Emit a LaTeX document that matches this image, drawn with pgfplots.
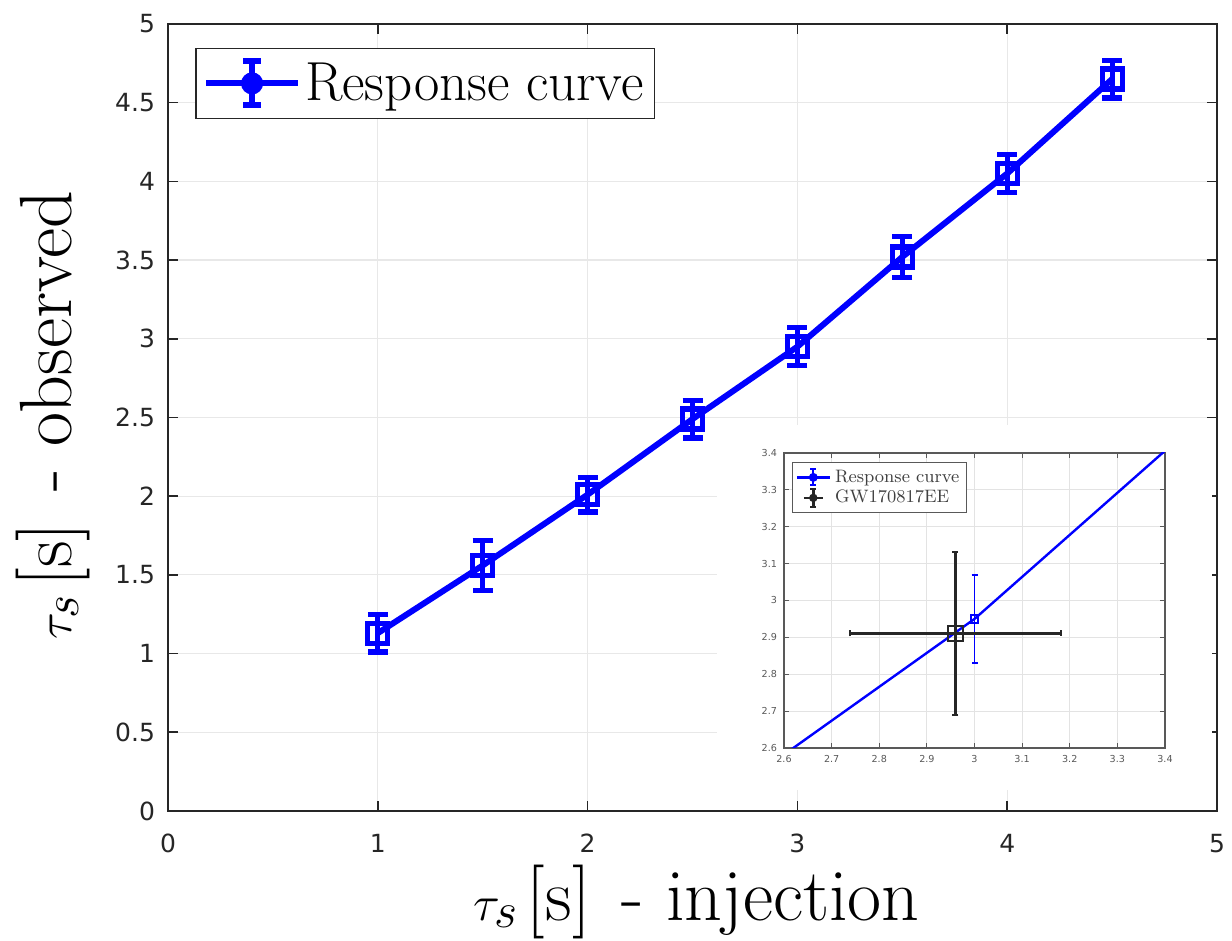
\documentclass[border=0pt]{standalone}
\usepackage{fontspec}
\usepackage{pgfplots}
\pgfplotsset{compat=1.18}
\usepackage{pgfplotstable}
\usetikzlibrary{calc}
\newfontfamily\tickfont{DejaVu Sans}
\definecolor{axgray}{gray}{0.15}
\definecolor{insgray}{gray}{0.35}
\definecolor{mblue}{rgb}{0,0,1}

\pgfplotstableread{
x y ey
1 1.13 0.12
1.5 1.56 0.16
2 2.01 0.11
2.5 2.49 0.12
3 2.95 0.12
3.5 3.52 0.13
4 4.05 0.12
4.5 4.65 0.12
}\resp

\pgfplotstableread{
x y ex ey
2.96 2.911 0.222 0.221
}\gw

\begin{document}
\begin{tikzpicture}
\useasboundingbox (-84pt,-65pt) rectangle (532pt,405.5pt);
\begin{axis}[name=main, at={(0,0)}, anchor=south west,
  width=524.5pt, height=393.5pt, scale only axis,
  xmin=0, xmax=5, ymin=0, ymax=5,
  xtick={0,1,2,3,4,5}, ytick={0,0.5,1,1.5,2,2.5,3,3.5,4,4.5,5},
  grid=major, grid style={gray!18, line width=0.6pt},
  axis line style={axgray, line width=0.8pt},
  tick style={axgray, line width=0.8pt}, major tick length=5pt, tick align=inside,
  ticklabel style={font=\tickfont\fontsize{12.5}{14}\selectfont, text=axgray},
  /pgf/number format/assume math mode=true,
  xticklabel style={yshift=-8pt}, yticklabel style={xshift=-3pt},
  xlabel={$\tau_s\,$[s]\hspace{0.12em} - injection},
  ylabel={$\tau_s\,$[s]\hspace{0.12em} - observed},
  label style={font=\fontsize{37}{44}\selectfont},
  xlabel style={at={(axis description cs:0.504,-0.115)}, anchor=center},
  ylabel style={at={(axis description cs:-0.11,0.503)}, anchor=center},
  legend style={at={(0.026,0.97)}, anchor=north west, font=\fontsize{27.5}{32}\selectfont,
    draw=axgray, line width=0.8pt, inner xsep=3.5pt, inner ysep=5pt},
  legend cell align=left,
]
\addplot[mblue, line width=3pt, mark=square, mark size=5pt, mark options={line width=2.6pt},
  legend image code/.code={
    \draw[mblue, line width=3pt] (0pt,0pt) -- (46pt,0pt);
    \draw[mblue, line width=3pt] (23pt,-11pt) -- (23pt,11pt);
    \draw[mblue, line width=3pt] (18.5pt,-11pt) -- (27.5pt,-11pt);
    \draw[mblue, line width=3pt] (18.5pt,11pt) -- (27.5pt,11pt);
    \fill[mblue] (23pt,0pt) circle (4pt);
  },
  error bars/.cd, y dir=both, y explicit,
  error bar style={line width=2.6pt},
  error mark options={rotate=90, mark size=5pt, line width=2.6pt}]
  table[x=x, y=y, y error=ey]{\resp};
\addlegendentry{Response curve}
\end{axis}
\fill[white] ($(main.south west)+(274.5pt,10.5pt)$) rectangle ($(main.south west)+(522pt,193pt)$);
\begin{axis}[at={($(main.south west)+(308pt,31.5pt)$)}, anchor=south west,
  width=190.5pt, height=147.5pt, scale only axis,
  xmin=2.6, xmax=3.4, ymin=2.6, ymax=3.4,
  xtick={2.6,2.7,2.8,2.9,3,3.1,3.2,3.3,3.4},
  ytick={2.6,2.7,2.8,2.9,3,3.1,3.2,3.3,3.4},
  grid=major, grid style={gray!22, line width=0.4pt},
  axis line style={insgray, line width=0.8pt},
  tick style={insgray, line width=0.5pt}, major tick length=2.5pt, tick align=inside,
  ticklabel style={font=\tickfont\fontsize{4.8}{5.5}\selectfont, text=insgray},
  /pgf/number format/assume math mode=true,
  legend style={at={(0.021,0.969)}, anchor=north west, font=\fontsize{9}{10}\selectfont,
    draw=insgray, line width=0.6pt, inner sep=1.5pt, row sep=-1.5pt, text=black!75},
  legend cell align=left,
]
\addplot[mblue, line width=1.2pt, mark=square, mark size=1.8pt, mark options={line width=1pt},
  legend image code/.code={
    \draw[mblue, line width=1.2pt] (0pt,0pt) -- (16.5pt,0pt);
    \draw[mblue, line width=0.9pt] (8.25pt,-4pt) -- (8.25pt,4pt);
    \draw[mblue, line width=0.9pt] (6.75pt,-4pt) -- (9.75pt,-4pt);
    \draw[mblue, line width=0.9pt] (6.75pt,4pt) -- (9.75pt,4pt);
    \fill[mblue] (8.25pt,0pt) circle (1.6pt);
  },
  error bars/.cd, y dir=both, y explicit,
  error bar style={line width=0.9pt},
  error mark options={rotate=90, mark size=1.5pt, line width=0.9pt}]
  table[x=x, y=y, y error=ey]{\resp};
\addlegendentry{Response curve}
\addplot[axgray, only marks, mark=square, mark size=3.8pt, mark options={line width=0.8pt},
  legend image code/.code={
    \draw[axgray, line width=1.2pt] (3.5pt,0pt) -- (13pt,0pt);
    \draw[axgray, line width=1.2pt] (8.25pt,-4.5pt) -- (8.25pt,4.5pt);
    \draw[axgray, line width=1.2pt] (6.75pt,-4.5pt) -- (9.75pt,-4.5pt);
    \draw[axgray, line width=1.2pt] (6.75pt,4.5pt) -- (9.75pt,4.5pt);
    \fill[axgray] (8.25pt,0pt) circle (1.8pt);
  },
  error bars/.cd, x dir=both, x explicit, y dir=both, y explicit,
  error bar style={line width=1.2pt},
  error mark options={rotate=90, mark size=1.5pt, line width=1.2pt}]
  table[x=x, y=y, x error=ex, y error=ey]{\gw};
\addlegendentry{GW170817EE}
\end{axis}
\end{tikzpicture}
\end{document}
